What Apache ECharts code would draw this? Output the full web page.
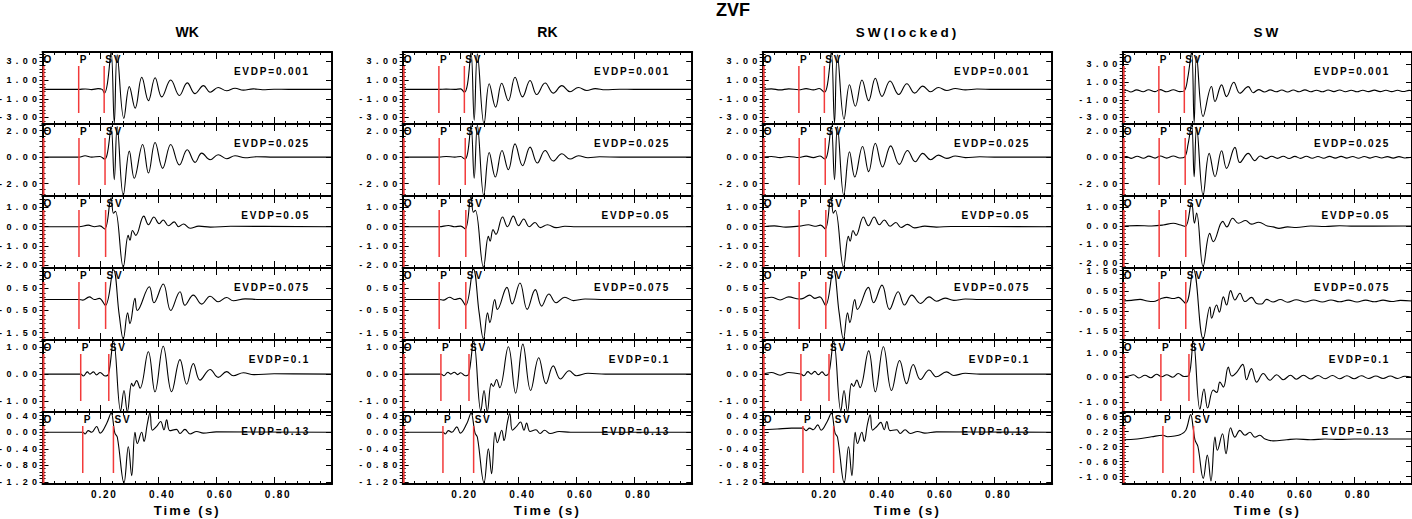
<!DOCTYPE html>
<html><head><meta charset="utf-8">
<script src="https://cdn.jsdelivr.net/npm/echarts/dist/echarts.min.js"></script>
<style>
html,body{margin:0;padding:0;background:#fff}
#chart{width:1412px;height:519px}
svg text[style*="9px"]{letter-spacing:4.4px}
svg text[style*="10px"]{letter-spacing:1.8px}
svg text[style*="13px"]{letter-spacing:2.2px}
svg text[style*="13.5px"]{letter-spacing:3px}
</style></head>
<body><div id="chart"></div>
<script>
// ---------------- data ----------------
const mainTitle = 'ZVF';
const columnTitles = ['WK', 'RK', 'SW(locked)', 'SW'];
const depthLabels = ['EVDP=0.001', 'EVDP=0.025', 'EVDP=0.05', 'EVDP=0.075', 'EVDP=0.1', 'EVDP=0.13'];
const markerNames = ['O', 'P', 'SV'];
const pTimes = [0.125, 0.126, 0.126, 0.126, 0.132, 0.139];
const sTimes = [0.213, 0.216, 0.218, 0.218, 0.229, 0.245];
const xTickLabels = [0.2, 0.4, 0.6, 0.8];
const yLabelsStd = [[-3, -1, 1, 3], [-2, 0, 2], [-2, -1, 0, 1], [-1.5, -0.5, 0.5], [-1, 0, 1], [-1.2, -0.8, -0.4, 0, 0.4]];
const yLabelsSW = [[-3, -1, 1, 3], [-2, 0, 2], [-2, -1, 0, 1], [-1.5, -0.5, 0.5, 1.5], [-1, 0, 1], [-1, -0.6, -0.2, 0.2, 0.6]];
const yRangeWK = [[-3.7, 4.0], [-2.94, 2.5], [-2.14, 1.59], [-1.84, 1.43], [-1.39, 1.25], [-1.25, 0.49]];
const yRangeRK = [[-3.7, 4.0], [-2.94, 2.5], [-2.14, 1.59], [-1.84, 1.43], [-1.39, 1.25], [-1.25, 0.49]];
const yRangeSL = [[-3.7, 4.0], [-2.94, 2.5], [-2.14, 1.59], [-1.84, 1.43], [-1.39, 1.25], [-1.25, 0.49]];
const yRangeSW = [[-3.74, 4.4], [-2.95, 2.54], [-2.27, 1.62], [-1.93, 1.63], [-1.41, 1.51], [-1.2, 0.72]];

// WK traces [time s, amplitude]
const wk1 = [[0,0],[0.125,0],[0.148,0.05],[0.17,-0.02],[0.192,0.08],[0.206,0],[0.214,-0.4],[0.224,0.6],[0.237,4.0],[0.248,-3.6],[0.258,3.7],[0.281,-3.1],[0.3,0.3],[0.32,-2.0],[0.343,1.3],[0.366,-1.2],[0.389,1.25],[0.412,-0.8],[0.443,1.0],[0.473,-0.65],[0.5,0.7],[0.527,-0.45],[0.556,0.4],[0.579,-0.3],[0.607,0.2],[0.636,-0.15],[0.665,0.12],[0.694,-0.08],[0.728,0.06],[0.76,-0.03],[0.8,0.02],[0.85,0],[1,0]];
const wk2 = [[0,0],[0.126,0],[0.147,0.1],[0.17,0],[0.198,0.05],[0.215,-0.15],[0.225,0.4],[0.237,2.3],[0.248,-1.7],[0.258,2.3],[0.279,-2.9],[0.3,0.45],[0.317,-1.6],[0.346,0.95],[0.366,-1.2],[0.389,1.1],[0.415,-0.85],[0.443,0.95],[0.473,-0.6],[0.5,0.55],[0.527,-0.4],[0.55,0.3],[0.579,-0.2],[0.607,0.18],[0.636,-0.12],[0.665,0.1],[0.7,-0.05],[0.74,0.03],[0.8,0],[1,0]];
const wk3 = [[0,0],[0.126,0],[0.158,0.08],[0.18,0],[0.198,0.04],[0.215,-0.12],[0.237,1.5],[0.245,0.7],[0.252,0.8],[0.279,-2.1],[0.296,-0.45],[0.302,-0.7],[0.311,-0.2],[0.322,-0.45],[0.35,0.55],[0.366,0.1],[0.385,0.5],[0.403,0.15],[0.417,0.35],[0.435,0.05],[0.455,0.25],[0.47,0.0],[0.487,0.14],[0.51,-0.08],[0.54,0.03],[0.58,-0.02],[0.65,0.02],[1,0]];
const wk4 = [[0,0],[0.126,0],[0.139,-0.03],[0.162,0.12],[0.179,0],[0.196,0.05],[0.217,-0.27],[0.245,1.35],[0.265,-0.7],[0.279,-1.8],[0.294,-0.6],[0.302,-1.1],[0.3195,0.05],[0.3275,-0.5],[0.369,0.58],[0.385,-0.15],[0.417,0.7],[0.443,-0.5],[0.475,0.35],[0.492,-0.26],[0.521,0.2],[0.55,-0.21],[0.579,0.15],[0.607,-0.1],[0.636,0.09],[0.659,-0.06],[0.7,0.03],[0.75,0],[1,0]];
const wk5 = [[0,0],[0.132,0],[0.141,-0.07],[0.155,0.08],[0.164,0],[0.176,0.08],[0.187,-0.03],[0.199,0.06],[0.216,-0.07],[0.228,0],[0.245,1.22],[0.27,-1.35],[0.2815,-0.6],[0.293,-1.38],[0.308,-0.34],[0.3136,-0.44],[0.325,-0.24],[0.3368,-0.52],[0.3656,0.82],[0.3886,-0.65],[0.417,1.02],[0.446,-0.65],[0.475,0.53],[0.498,-0.37],[0.521,0.39],[0.544,-0.22],[0.579,0.17],[0.607,-0.12],[0.636,0.09],[0.659,-0.06],[0.694,0.05],[0.73,-0.02],[0.8,0.01],[1,0]];
const wk6 = [[0,0],[0.139,0],[0.147,-0.04],[0.158,0.04],[0.17,0.0],[0.187,0.14],[0.199,-0.02],[0.222,0.22],[0.237,0.46],[0.25,-0.02],[0.2585,-0.12],[0.2815,-1.22],[0.2965,-0.35],[0.308,-1.05],[0.3195,0.0],[0.3275,-0.27],[0.3425,0.0],[0.3506,-0.22],[0.362,0.2],[0.3713,0.47],[0.3794,0.05],[0.3943,0.14],[0.408,0.26],[0.4196,0.06],[0.4288,0.3],[0.44,0.04],[0.463,0.07],[0.475,-0.03],[0.492,0.07],[0.5095,-0.04],[0.5325,0.02],[0.5556,-0.02],[0.6,0.01],[1,0]];

// RK traces
const rk1 = [[0,0],[0.125,0],[0.15,0.03],[0.18,0],[0.2,0.06],[0.213,-0.3],[0.224,0.6],[0.236,4.0],[0.247,-3.3],[0.258,3.8],[0.281,-3.7],[0.299,0.6],[0.321,-1.9],[0.342,0.65],[0.365,-1.2],[0.388,1.3],[0.414,-0.8],[0.44,0.95],[0.463,-0.55],[0.492,0.68],[0.52,-0.4],[0.55,0.4],[0.578,-0.25],[0.607,0.2],[0.636,-0.12],[0.665,0.08],[0.7,-0.04],[0.75,0.02],[0.8,0],[1,0]];
const rk2 = [[0,0],[0.126,0],[0.15,0.05],[0.18,0],[0.2,0.04],[0.215,-0.15],[0.225,0.4],[0.236,2.4],[0.247,-1.6],[0.258,2.4],[0.28,-2.9],[0.299,0.35],[0.32,-1.5],[0.343,0.5],[0.365,-0.95],[0.388,1.0],[0.414,-0.65],[0.44,0.75],[0.465,-0.45],[0.492,0.5],[0.52,-0.3],[0.55,0.25],[0.578,-0.15],[0.607,0.1],[0.64,-0.05],[0.68,0.02],[0.75,0],[1,0]];
const rk3 = [[0,0],[0.126,0],[0.158,0.06],[0.18,0],[0.2,0.03],[0.216,-0.12],[0.236,1.55],[0.244,0.75],[0.251,0.85],[0.279,-2.1],[0.296,-0.5],[0.302,-0.75],[0.312,-0.15],[0.322,-0.4],[0.345,0.5],[0.362,0.0],[0.382,0.55],[0.4,0.05],[0.418,0.4],[0.437,0.0],[0.457,0.22],[0.475,-0.05],[0.5,0.1],[0.53,-0.05],[0.56,0.02],[0.6,0],[1,0]];
const rk4 = [[0,0],[0.126,0],[0.14,-0.03],[0.162,0.1],[0.18,0],[0.197,0.05],[0.217,-0.27],[0.244,1.38],[0.264,-0.6],[0.279,-1.8],[0.293,-0.6],[0.301,-1.05],[0.318,0.0],[0.327,-0.45],[0.36,0.55],[0.378,-0.2],[0.405,0.75],[0.43,-0.45],[0.458,0.45],[0.48,-0.3],[0.505,0.25],[0.53,-0.15],[0.56,0.1],[0.59,-0.05],[0.63,0.02],[0.7,0],[1,0]];
const rk5 = [[0,0],[0.132,0],[0.142,-0.06],[0.156,0.07],[0.166,0],[0.178,0.07],[0.19,-0.02],[0.2,0.05],[0.216,-0.06],[0.228,0],[0.245,1.22],[0.27,-1.35],[0.281,-0.6],[0.292,-1.38],[0.306,-0.35],[0.313,-0.45],[0.324,-0.2],[0.335,-0.5],[0.365,1.0],[0.39,-0.7],[0.415,1.1],[0.442,-0.6],[0.47,0.6],[0.495,-0.35],[0.52,0.3],[0.545,-0.18],[0.575,0.12],[0.6,-0.06],[0.64,0.03],[0.7,0],[1,0]];
const rk6 = [[0,0],[0.139,0],[0.147,-0.04],[0.158,0.04],[0.17,0.0],[0.187,0.13],[0.199,-0.02],[0.222,0.22],[0.236,0.46],[0.25,-0.02],[0.258,-0.12],[0.281,-1.22],[0.296,-0.4],[0.307,-1.0],[0.319,0.0],[0.327,-0.25],[0.342,0.05],[0.35,-0.2],[0.362,0.25],[0.37,0.45],[0.379,0.05],[0.394,0.15],[0.407,0.25],[0.419,0.05],[0.428,0.22],[0.44,0.02],[0.46,0.06],[0.475,-0.03],[0.49,0.05],[0.51,-0.03],[0.54,0.02],[0.58,0],[1,0]];

// SW(locked) traces
const sl1 = [[0,0],[0.03,0.06],[0.06,-0.05],[0.09,0.06],[0.125,-0.03],[0.15,0.08],[0.175,-0.05],[0.195,0.1],[0.213,-0.3],[0.224,0.6],[0.237,4.0],[0.248,-3.6],[0.258,3.7],[0.281,-3.2],[0.3,0.5],[0.32,-1.8],[0.343,1.0],[0.366,-1.2],[0.389,1.2],[0.412,-0.75],[0.44,0.9],[0.47,-0.55],[0.498,0.6],[0.525,-0.4],[0.553,0.35],[0.58,-0.25],[0.607,0.2],[0.636,-0.12],[0.665,0.1],[0.7,-0.05],[0.74,0.04],[0.8,0],[1,0]];
const sl2 = [[0,0],[0.03,0.05],[0.06,-0.04],[0.09,0.05],[0.126,-0.03],[0.15,0.07],[0.175,-0.04],[0.198,0.08],[0.215,-0.15],[0.225,0.4],[0.237,2.35],[0.248,-1.7],[0.258,2.3],[0.28,-2.9],[0.3,0.4],[0.318,-1.5],[0.345,0.8],[0.366,-1.1],[0.389,1.05],[0.414,-0.75],[0.442,0.85],[0.472,-0.55],[0.5,0.5],[0.527,-0.35],[0.553,0.28],[0.58,-0.2],[0.607,0.15],[0.636,-0.1],[0.665,0.08],[0.7,-0.04],[0.75,0.02],[0.8,0],[1,0]];
const sl3 = [[0,0],[0.04,0.04],[0.08,-0.02],[0.126,0.03],[0.158,0.1],[0.18,0.02],[0.2,0.08],[0.216,-0.12],[0.236,1.55],[0.244,0.7],[0.251,0.85],[0.279,-2.1],[0.296,-0.5],[0.302,-0.75],[0.312,-0.2],[0.322,-0.45],[0.348,0.5],[0.365,0.05],[0.385,0.5],[0.403,0.1],[0.42,0.35],[0.44,0.02],[0.46,0.22],[0.478,-0.04],[0.5,0.12],[0.525,-0.06],[0.56,0.03],[0.6,-0.02],[0.65,0.01],[1,0]];
const sl4 = [[0,0.02],[0.03,0.1],[0.06,-0.02],[0.09,0.12],[0.126,0.02],[0.14,0.05],[0.162,0.2],[0.18,0.05],[0.197,0.12],[0.217,-0.27],[0.244,1.38],[0.264,-0.6],[0.279,-1.8],[0.293,-0.6],[0.301,-1.05],[0.318,0.0],[0.327,-0.45],[0.365,0.55],[0.383,-0.15],[0.412,0.65],[0.438,-0.45],[0.468,0.35],[0.49,-0.25],[0.515,0.2],[0.545,-0.18],[0.575,0.12],[0.6,-0.08],[0.63,0.06],[0.66,-0.04],[0.7,0.02],[0.75,0],[1,0]];
const sl5 = [[0,0],[0.03,0.06],[0.06,-0.04],[0.09,0.06],[0.132,0],[0.142,-0.06],[0.156,0.09],[0.168,0],[0.18,0.1],[0.192,-0.02],[0.205,0.08],[0.218,-0.05],[0.229,0.05],[0.245,1.22],[0.27,-1.35],[0.281,-0.6],[0.293,-1.38],[0.307,-0.35],[0.314,-0.45],[0.325,-0.22],[0.336,-0.5],[0.366,0.85],[0.389,-0.65],[0.417,1.0],[0.445,-0.6],[0.473,0.5],[0.497,-0.35],[0.52,0.35],[0.545,-0.2],[0.575,0.15],[0.6,-0.1],[0.635,0.08],[0.66,-0.05],[0.7,0.03],[0.75,0],[1,0]];
const sl6 = [[0,0.06],[0.05,0.08],[0.1,0.1],[0.139,0.1],[0.15,0.04],[0.162,0.1],[0.175,0.06],[0.19,0.18],[0.202,0.05],[0.222,0.25],[0.237,0.46],[0.25,-0.02],[0.2585,-0.12],[0.2815,-1.22],[0.2965,-0.35],[0.308,-1.05],[0.3195,0.0],[0.3275,-0.27],[0.3425,0.0],[0.3506,-0.22],[0.362,0.2],[0.3713,0.42],[0.3794,0.05],[0.3943,0.14],[0.408,0.24],[0.4196,0.06],[0.4288,0.26],[0.44,0.04],[0.463,0.06],[0.475,-0.03],[0.492,0.06],[0.51,-0.03],[0.535,0.02],[0.56,-0.02],[0.6,0.01],[1,0]];

// SW traces
const sw1 = [[0,0],[0.012,0.08],[0.028,-0.12],[0.048,0.12],[0.071,-0.1],[0.089,0.13],[0.112,-0.08],[0.129,0.15],[0.152,-0.1],[0.175,0.14],[0.198,-0.08],[0.213,0.02],[0.225,1.5],[0.238,4.4],[0.247,-3.6],[0.2555,3.9],[0.278,-2.9],[0.307,0.5],[0.319,-1.2],[0.342,0.68],[0.359,-0.64],[0.384,0.98],[0.405,-0.26],[0.434,0.49],[0.451,-0.2],[0.47,0.15],[0.49,-0.12],[0.51,0.12],[0.53,-0.1],[0.55,0.1],[0.57,-0.12],[0.59,0.1],[0.61,-0.1],[0.63,0.12],[0.65,-0.1],[0.67,0.08],[0.69,-0.1],[0.71,0.1],[0.73,-0.08],[0.75,0.1],[0.77,-0.09],[0.79,0.08],[0.81,-0.1],[0.83,0.08],[0.85,-0.08],[0.87,0.09],[0.89,-0.08],[0.91,0.07],[0.93,-0.08],[0.95,0.07],[0.97,-0.07],[0.99,0.06],[1,0.02]];
const sw2 = [[0,0],[0.012,0.05],[0.03,-0.08],[0.05,0.08],[0.072,-0.07],[0.09,0.09],[0.112,-0.06],[0.13,0.1],[0.152,-0.06],[0.175,0.1],[0.198,-0.05],[0.214,0.02],[0.226,1.0],[0.238,2.54],[0.247,-1.48],[0.2555,2.3],[0.278,-2.9],[0.299,0.3],[0.319,-1.48],[0.342,0.5],[0.359,-0.84],[0.388,0.76],[0.405,-0.4],[0.434,0.3],[0.457,-0.25],[0.475,0.1],[0.495,-0.1],[0.515,0.08],[0.535,-0.08],[0.555,0.08],[0.575,-0.09],[0.595,0.07],[0.615,-0.08],[0.635,0.08],[0.655,-0.07],[0.675,0.06],[0.695,-0.07],[0.715,0.07],[0.735,-0.06],[0.755,0.07],[0.775,-0.06],[0.795,0.06],[0.815,-0.07],[0.835,0.06],[0.855,-0.06],[0.875,0.06],[0.895,-0.05],[0.915,0.05],[0.935,-0.06],[0.955,0.05],[0.975,-0.05],[1,0]];
const sw3 = [[0,0],[0.05,0.02],[0.1,0.0],[0.14,0.05],[0.175,0.15],[0.2,0.05],[0.217,-0.02],[0.238,1.25],[0.248,0.15],[0.2555,0.7],[0.278,-2.2],[0.301,-0.4],[0.313,-0.85],[0.346,0.25],[0.36,-0.05],[0.38,0.42],[0.4,0.15],[0.425,0.3],[0.445,0.1],[0.47,0.2],[0.5,0.0],[0.52,-0.05],[0.54,-0.13],[0.57,-0.05],[0.6,-0.08],[0.65,0.0],[0.7,-0.03],[0.75,0.01],[0.8,-0.01],[1,0]];
const sw4 = [[0,0],[0.03,0.03],[0.06,0.08],[0.085,0.0],[0.106,-0.03],[0.13,0.1],[0.152,0.18],[0.175,0.12],[0.192,0.18],[0.2175,-0.12],[0.244,1.58],[0.2785,-1.88],[0.3015,-0.3],[0.3073,-0.85],[0.3245,-0.2],[0.334,-0.55],[0.348,0.2],[0.359,-0.2],[0.373,0.51],[0.388,0.05],[0.405,0.38],[0.4225,-0.03],[0.4455,0.18],[0.463,-0.12],[0.48,-0.15],[0.497,0.08],[0.52,-0.05],[0.545,0.07],[0.57,-0.06],[0.6,0.06],[0.63,-0.05],[0.66,0.05],[0.69,-0.05],[0.72,0.05],[0.75,-0.04],[0.78,0.04],[0.81,-0.05],[0.84,0.04],[0.87,-0.04],[0.9,0.04],[0.93,-0.03],[0.96,0.03],[1,0]];
const sw5 = [[0,0],[0.02,0.05],[0.037,0.1],[0.056,-0.03],[0.077,0.08],[0.097,-0.02],[0.117,0.12],[0.135,0.02],[0.152,0.1],[0.173,0.0],[0.192,0.15],[0.212,0.03],[0.229,0.08],[0.244,1.48],[0.267,-1.3],[0.281,-0.48],[0.2935,-1.25],[0.313,-0.52],[0.325,-0.62],[0.336,-0.2],[0.348,-0.4],[0.365,0.41],[0.377,0.05],[0.394,0.2],[0.415,0.52],[0.428,-0.1],[0.445,0.35],[0.463,-0.2],[0.486,0.15],[0.509,-0.12],[0.532,0.1],[0.555,-0.1],[0.58,0.08],[0.6,-0.08],[0.625,0.08],[0.65,-0.07],[0.675,0.07],[0.7,-0.06],[0.725,0.07],[0.75,-0.06],[0.775,0.06],[0.8,-0.06],[0.825,0.06],[0.85,-0.05],[0.875,0.05],[0.9,-0.05],[0.925,0.05],[0.95,-0.05],[0.975,0.04],[1,0]];
const sw6 = [[0,-0.02],[0.05,0.0],[0.1,0.06],[0.139,0.1],[0.155,0.06],[0.18,0.08],[0.2,0.12],[0.218,0.23],[0.235,0.65],[0.244,0.27],[0.25,-0.03],[0.26,-0.2],[0.2785,-1.05],[0.2925,-0.43],[0.305,-1.12],[0.319,0.05],[0.327,-0.3],[0.345,0.14],[0.357,-0.39],[0.373,0.3],[0.388,0.05],[0.405,0.23],[0.4225,0.1],[0.44,0.18],[0.457,0.05],[0.474,0.1],[0.492,0.0],[0.52,-0.05],[0.567,-0.02],[0.6,0.0],[0.65,-0.02],[0.7,0.0],[0.75,-0.01],[0.8,0.0],[1,0]];

// ---------------- layout ----------------
const FONT = '"Liberation Sans", Arial, sans-serif';
const colLeft = [42.5, 402.7, 762.7, 1122.7];
const rowTop = [52, 124, 196, 268, 340, 412];
const panelW = 289.5, panelH = 72;
const titleSizes = [14, 14, 13.5, 13.5];

const traces = [[wk1, wk2, wk3, wk4, wk5, wk6], [rk1, rk2, rk3, rk4, rk5, rk6], [sl1, sl2, sl3, sl4, sl5, sl6], [sw1, sw2, sw3, sw4, sw5, sw6]];
const yRanges = [yRangeWK, yRangeRK, yRangeSL, yRangeSW];
const yLabelSets = [yLabelsStd, yLabelsStd, yLabelsStd, yLabelsSW];

function minorValues(labels, min, max) {
  const step = (labels[1] - labels[0]) / 5;
  const out = [];
  let v = labels[0] - Math.floor((labels[0] - min) / step + 1e-9) * step;
  for (; v <= max + 1e-9; v += step) out.push(+v.toFixed(5));
  return out;
}

const black = '#000';
const grid = [], xAxis = [], yAxis = [], series = [], title = [];
title.push({ text: mainTitle, left: 733, top: 0.5, textAlign: 'center', padding: 0,
  textStyle: { fontSize: 18, fontWeight: 'bold', color: black, fontFamily: FONT } });

for (let c = 0; c < 4; c++) {
  title.push({ text: columnTitles[c], left: colLeft[c] + panelW / 2, top: 25, textAlign: 'center', padding: 0,
    textStyle: { fontSize: titleSizes[c], fontWeight: 'bold', color: black, fontFamily: FONT } });
  for (let r = 0; r < 6; r++) {
    const g = grid.length;
    const [ymin, ymax] = yRanges[c][r];
    const labels = yLabelSets[c][r];
    const minors = minorValues(labels, ymin, ymax);
    const isBottom = r === 5;
    grid.push({ left: colLeft[c], top: rowTop[r], width: panelW, height: panelH });
    const axLine = { show: true, onZero: false, lineStyle: { color: black, width: 2 } };
    const xCommon = {
      gridIndex: g, type: 'value', min: 0, max: 1, interval: 0.2,
      axisLine: axLine,
      axisTick: { show: true, inside: true, length: 7, lineStyle: { color: black, width: 1 } },
      minorTick: { show: true, splitNumber: 5, length: 3, lineStyle: { color: black, width: 1 } },
      splitLine: { show: false }, minorSplitLine: { show: false }
    };
    xAxis.push(Object.assign({}, xCommon, {
      position: 'bottom',
      axisLabel: { show: isBottom, customValues: xTickLabels, formatter: v => v.toFixed(2), margin: 5,
        fontSize: 10, fontWeight: 'bold', color: black, fontFamily: FONT, padding: [0, 0, 0, 8] },
      name: isBottom ? 'Time (s)' : '', nameLocation: 'middle', nameGap: 20,
      nameTextStyle: { fontSize: 13, fontWeight: 'bold', color: black, fontFamily: FONT }
    }));
    xAxis.push(Object.assign({}, xCommon, { position: 'top', axisLabel: { show: false } }));
    const yBase = { gridIndex: g, type: 'value', min: ymin, max: ymax, splitLine: { show: false } };
    yAxis.push(Object.assign({}, yBase, {
      position: 'left', axisLine: axLine,
      axisTick: { show: true, inside: true, length: 6, customValues: labels, lineStyle: { color: black, width: 1 } },
      axisLabel: { show: true, customValues: labels, formatter: v => v.toFixed(2), margin: 1,
        fontSize: 9, lineHeight: 9, fontWeight: 'bold', color: black, fontFamily: FONT }
    }));
    yAxis.push(Object.assign({}, yBase, {
      position: 'left', axisLine: { show: false },
      axisTick: { show: true, inside: true, length: 3, customValues: minors, lineStyle: { color: black, width: 1 } },
      axisLabel: { show: false }
    }));
    yAxis.push(Object.assign({}, yBase, {
      position: 'right', axisLine: axLine,
      axisTick: { show: true, inside: true, length: 6, customValues: labels, lineStyle: { color: black, width: 1 } },
      axisLabel: { show: false }
    }));
    yAxis.push(Object.assign({}, yBase, {
      position: 'right', axisLine: { show: false },
      axisTick: { show: true, inside: true, length: 3, customValues: minors, lineStyle: { color: black, width: 1 } },
      axisLabel: { show: false }
    }));

    series.push({
      type: 'line', xAxisIndex: 2 * g, yAxisIndex: 4 * g, data: traces[c][r],
      symbol: 'none', showSymbol: false, smooth: 0.4, clip: true, silent: true,
      lineStyle: { color: black, width: 1.1 }, z: 3
    });
    const mTimes = [0, pTimes[r], sTimes[r]];
    series.push({
      type: 'custom', xAxisIndex: 2 * g, yAxisIndex: 4 * g, silent: true, clip: false, z: 4,
      data: mTimes.map(t => [t, 0]),
      encode: { x: 0, y: 1 },
      renderItem: (params, api) => {
        const cs = params.coordSys;
        const i = params.dataIndex;
        const x = api.coord([api.value(0), 0])[0];
        const y1 = cs.y + 14;
        const y2 = i === 0 ? cs.y + cs.height - 1 : cs.y + cs.height - 11;
        return { type: 'group', children: [
          { type: 'line', shape: { x1: x + (i === 0 ? 1 : 0), y1: y1, x2: x + (i === 0 ? 1 : 0), y2: y2 },
            style: { stroke: '#f23a3a', lineWidth: i === 0 ? 2 : 1.5 } },
          { type: 'text', x: x + 1, y: cs.y + 2.5,
            style: { text: markerNames[i], fill: black, font: 'bold 10px "Liberation Sans"', align: 'left', verticalAlign: 'top' } }
        ] };
      }
    });
    title.push({ text: depthLabels[r], left: colLeft[c] + panelW - 22, top: rowTop[r] + 14.5, textAlign: 'right', padding: 0,
      textStyle: { fontSize: 10, fontWeight: 'bold', color: black, fontFamily: FONT } });
  }
}

const chart = echarts.init(document.getElementById('chart'), null, { renderer: 'svg' });
chart.setOption({ animation: false, backgroundColor: '#fff', title, grid, xAxis, yAxis, series });
</script>
</body></html>
